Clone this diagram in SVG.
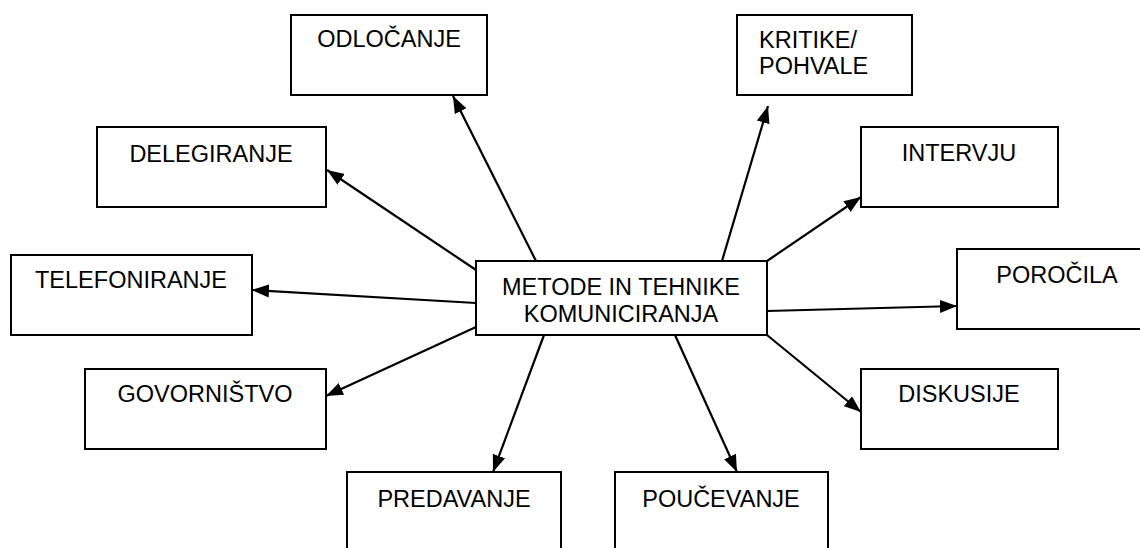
<svg xmlns="http://www.w3.org/2000/svg" width="1140" height="548" viewBox="0 0 1140 548">
<style>
rect{fill:#fff;stroke:#000;stroke-width:2}
text{font-family:"Liberation Sans",Arial,sans-serif;font-size:23.5px;fill:#000}
.c{text-anchor:middle}
.e line{stroke:#000;stroke-width:2.2}
</style>
<defs>
<marker id="ah" markerUnits="userSpaceOnUse" markerWidth="18" markerHeight="14" refX="17" refY="7" orient="auto">
<path d="M0,0.5 L17,7 L0,13.5 z" fill="#000"/>
</marker>
</defs>
<rect width="1140" height="548" style="stroke:none"/>
<g class="e" id="connectors">
<line x1="536" y1="261" x2="453" y2="96" marker-end="url(#ah)"/>
<line x1="722" y1="261" x2="768" y2="106" marker-end="url(#ah)"/>
<line x1="476" y1="270" x2="327" y2="170" marker-end="url(#ah)"/>
<line x1="767" y1="261" x2="861" y2="197" marker-end="url(#ah)"/>
<line x1="476" y1="303" x2="252" y2="290" marker-end="url(#ah)"/>
<line x1="767" y1="311" x2="957" y2="306" marker-end="url(#ah)"/>
<line x1="476" y1="327" x2="326" y2="396" marker-end="url(#ah)"/>
<line x1="767" y1="335" x2="861" y2="412" marker-end="url(#ah)"/>
<line x1="544" y1="335" x2="493" y2="472" marker-end="url(#ah)"/>
<line x1="675" y1="335" x2="737" y2="472" marker-end="url(#ah)"/>
</g>
<g id="center"><rect x="476" y="261" width="291" height="74"/><text class="c" x="621" y="295">METODE IN TEHNIKE</text><text class="c" x="621" y="322">KOMUNICIRANJA</text></g>
<g id="odlocanje"><rect x="291" y="15" width="196" height="80"/><text class="c" x="389" y="47">ODLOČANJE</text></g>
<g id="kritike"><rect x="737" y="15" width="175" height="80"/><text x="759" y="48">KRITIKE/</text><text x="759" y="74">POHVALE</text></g>
<g id="delegiranje"><rect x="97" y="127" width="229" height="80"/><text class="c" x="211" y="162">DELEGIRANJE</text></g>
<g id="intervju"><rect x="861" y="127" width="197" height="80"/><text class="c" x="959" y="161">INTERVJU</text></g>
<g id="telefoniranje"><rect x="11" y="255" width="241" height="80"/><text class="c" x="131" y="288">TELEFONIRANJE</text></g>
<g id="porocila"><rect x="957" y="249" width="200" height="80"/><text class="c" x="1057" y="283">POROČILA</text></g>
<g id="govornistvo"><rect x="85" y="369" width="241" height="80"/><text class="c" x="205" y="402">GOVORNIŠTVO</text></g>
<g id="diskusije"><rect x="861" y="369" width="197" height="80"/><text class="c" x="959" y="402">DISKUSIJE</text></g>
<g id="predavanje"><rect x="347" y="472" width="214" height="90"/><text class="c" x="454" y="507">PREDAVANJE</text></g>
<g id="poucevanje"><rect x="615" y="472" width="213" height="90"/><text class="c" x="721" y="507">POUČEVANJE</text></g>
</svg>
